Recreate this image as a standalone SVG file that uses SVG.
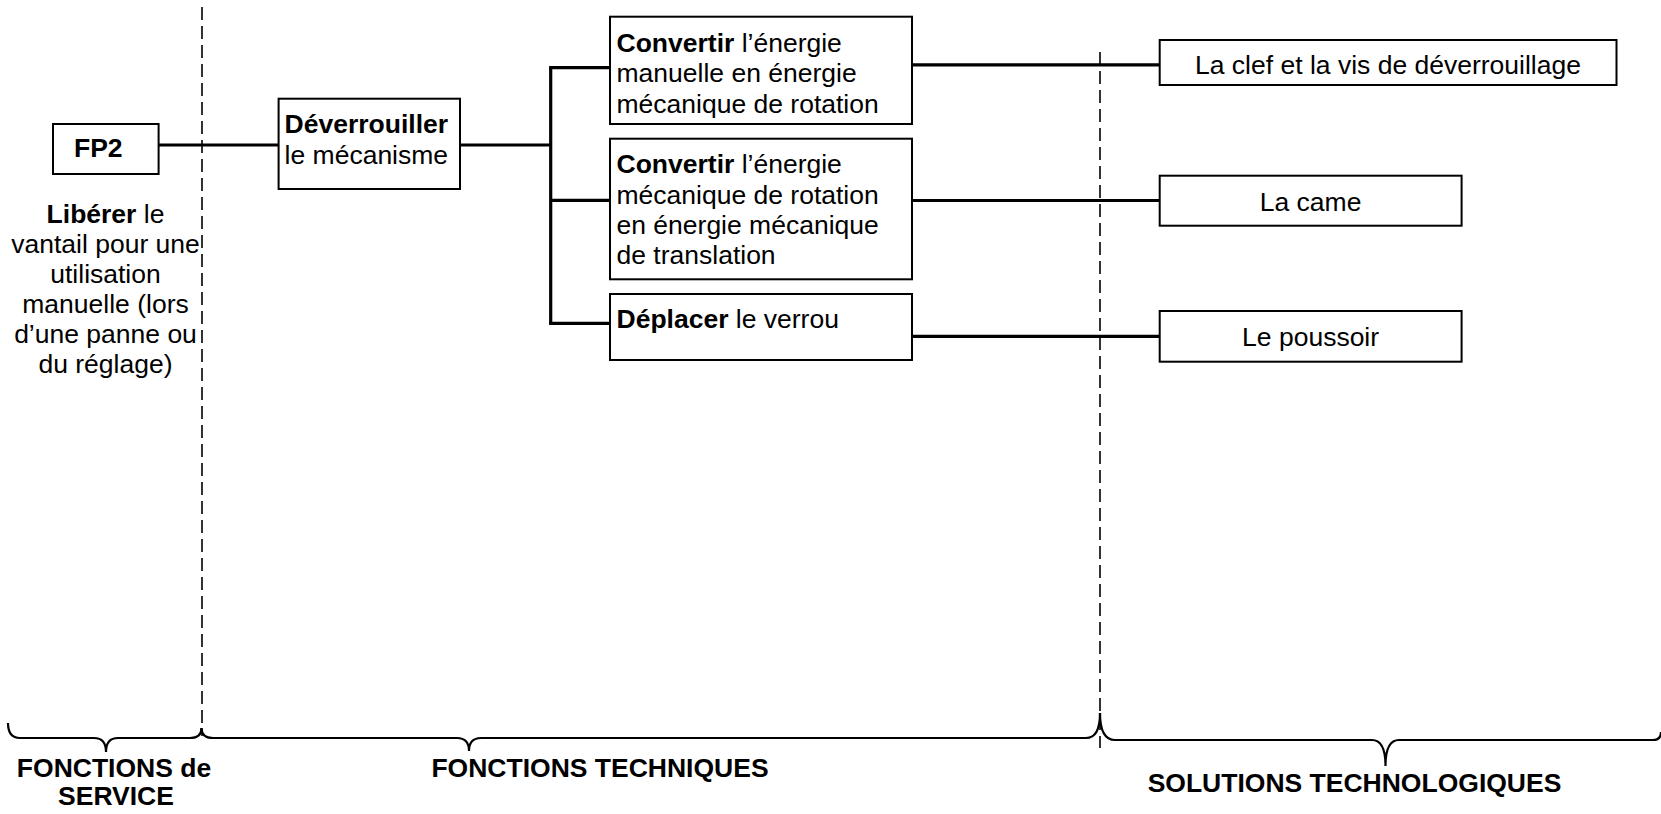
<svg xmlns="http://www.w3.org/2000/svg" width="1661" height="814" viewBox="0 0 1661 814">
<style>
text{font-family:"Liberation Sans",Arial,sans-serif;font-size:26.5px;fill:#000}
.b{font-weight:bold}
.c{text-anchor:middle}
.box{fill:#fff;stroke:#000;stroke-width:2}
.conn{stroke:#000;stroke-width:3.2;fill:none}
.dash{stroke:#000;stroke-width:1.6;stroke-dasharray:13 6;fill:none}
.brace{stroke:#000;stroke-width:2.2;fill:none}
</style>
<rect width="1661" height="814" fill="#fff"/>
<g id="separators">
<line class="dash" x1="202" y1="7" x2="202" y2="736"/>
<line class="dash" x1="1100" y1="52" x2="1100" y2="748"/>
</g>
<g id="connectors">
<line class="conn" x1="158.6" y1="145" x2="278.6" y2="145"/>
<line class="conn" x1="460" y1="145" x2="550.7" y2="145"/>
<line class="conn" x1="550.7" y1="67.7" x2="550.7" y2="323.3"/>
<line class="conn" x1="549.1" y1="67.7" x2="610" y2="67.7"/>
<line class="conn" x1="550.7" y1="200.3" x2="610" y2="200.3"/>
<line class="conn" x1="549.1" y1="323.3" x2="610" y2="323.3"/>
<line class="conn" x1="912" y1="64.8" x2="1159.7" y2="64.8"/>
<line class="conn" x1="912" y1="200.5" x2="1159.7" y2="200.5"/>
<line class="conn" x1="912" y1="336.4" x2="1159.7" y2="336.4"/>
</g>
<g id="fp2">
<rect class="box" x="53" y="124" width="105.6" height="50"/>
<text class="b" x="74" y="157">FP2</text>
</g>
<g id="fp2-desc">
<text class="c" x="105.5" y="223"><tspan class="b">Libérer</tspan> le</text>
<text class="c" x="105.5" y="253">vantail pour une</text>
<text class="c" x="105.5" y="283">utilisation</text>
<text class="c" x="105.5" y="313">manuelle (lors</text>
<text class="c" x="105.5" y="343">d’une panne ou</text>
<text class="c" x="105.5" y="373">du réglage)</text>
</g>
<g id="ft-deverrouiller">
<rect class="box" x="278.6" y="98.7" width="181.4" height="90.3"/>
<text class="b" x="284.6" y="133.3">Déverrouiller</text>
<text x="284.6" y="164">le mécanisme</text>
</g>
<g id="ft-convertir1">
<rect class="box" x="610" y="16.7" width="302" height="107.3"/>
<text x="616.5" y="51.7"><tspan class="b">Convertir</tspan> l’énergie</text>
<text x="616.5" y="82">manuelle en énergie</text>
<text x="616.5" y="112.5">mécanique de rotation</text>
</g>
<g id="ft-convertir2">
<rect class="box" x="610" y="138.7" width="302" height="140.6"/>
<text x="616.5" y="173.3"><tspan class="b">Convertir</tspan> l’énergie</text>
<text x="616.5" y="203.5">mécanique de rotation</text>
<text x="616.5" y="233.7">en énergie mécanique</text>
<text x="616.5" y="263.9">de translation</text>
</g>
<g id="ft-deplacer">
<rect class="box" x="610" y="294" width="302" height="66"/>
<text x="616.5" y="328.3"><tspan class="b">Déplacer</tspan> le verrou</text>
</g>
<g id="st-clef">
<rect class="box" x="1159.7" y="40" width="456.8" height="45"/>
<text class="c" x="1388" y="74.3">La clef et la vis de déverrouillage</text>
</g>
<g id="st-came">
<rect class="box" x="1159.7" y="175.7" width="301.9" height="50"/>
<text class="c" x="1310.6" y="211">La came</text>
</g>
<g id="st-poussoir">
<rect class="box" x="1159.7" y="311" width="301.9" height="50.7"/>
<text class="c" x="1310.6" y="346">Le poussoir</text>
</g>
<g id="braces">
<path class="brace" d="M8 723 Q8 738 20 738 L94 738 Q106 738 106 752 Q106 738 118 738 L190 738 Q201.5 738 201.5 728"/>
<path class="brace" d="M201.5 728 Q201.5 738 213 738 L457 738 Q469 738 469 751 Q469 738 481 738 L1086 738 Q1100 738 1100 713"/>
<path class="brace" d="M1100 713 Q1100 740 1115 740 L1372 740 Q1385.5 740 1385.5 766 Q1385.5 740 1399 740 L1653 740 Q1661 740 1661 732"/>
</g>
<g id="labels">
<text class="b c" x="114" y="777">FONCTIONS de</text>
<text class="b c" x="116" y="805">SERVICE</text>
<text class="b c" x="600" y="777">FONCTIONS TECHNIQUES</text>
<text class="b c" x="1354.5" y="791.7">SOLUTIONS TECHNOLOGIQUES</text>
</g>
</svg>
